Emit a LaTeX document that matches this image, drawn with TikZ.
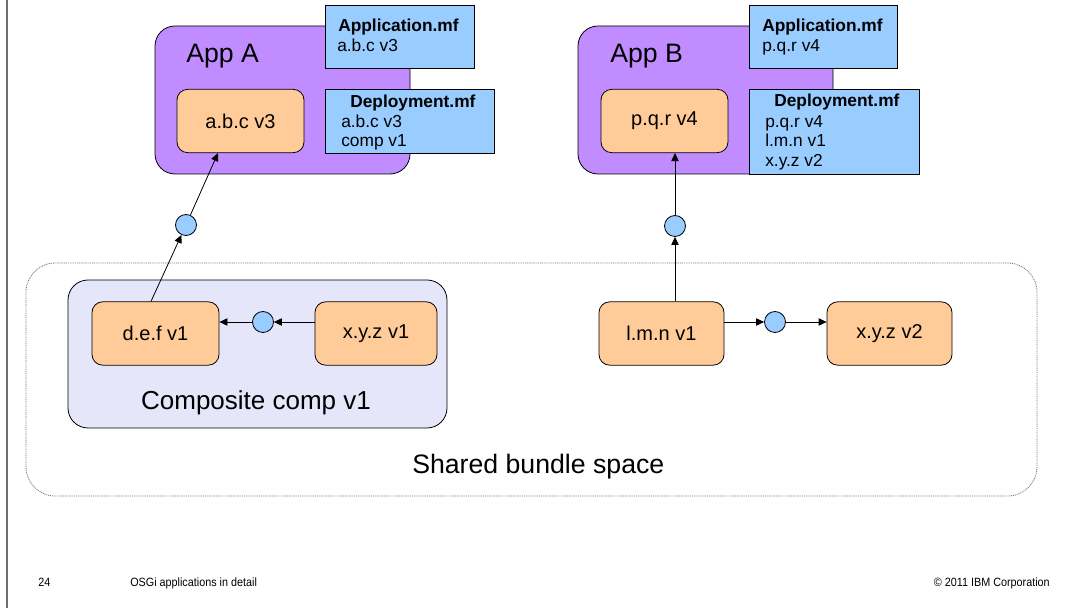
\documentclass[tikz,border=0pt]{standalone}
\usepackage{fontspec}
\setmainfont{Liberation Sans}
\newfontfamily\narrowfont[FakeStretch=0.9]{Liberation Sans}
\usetikzlibrary{arrows.meta,calc}
\definecolor{appfill}{HTML}{C08CFF}
\definecolor{mffill}{HTML}{99CCFF}
\definecolor{bundlefill}{HTML}{FFCC99}
\definecolor{compfill}{HTML}{E6E6FA}
\definecolor{framegrey}{HTML}{6E6E6E}
\definecolor{dotgrey}{HTML}{707070}
\begin{document}
\begin{tikzpicture}[x=0.75pt,y=-0.75pt,
  appbox/.style={draw=black, fill=appfill, rounded corners=15pt, line width=0.6pt, inner sep=0pt},
  mfbox/.style={draw=black, fill=mffill, line width=0.6pt, inner sep=0pt},
  bundlebox/.style={draw=black, fill=bundlefill, rounded corners=8pt, line width=0.6pt, inner sep=0pt,
    minimum height=47.5pt, font=\fontsize{15}{18}\selectfont},
  compbox/.style={draw=black, fill=compfill, rounded corners=15pt, line width=0.6pt, inner sep=0pt},
  sharedbox/.style={draw=dotgrey, line width=0.6pt, dash pattern=on 0.7pt off 0.7pt, rounded corners=22pt, inner sep=0pt},
  port/.style={circle, draw=black, fill=mffill, line width=0.6pt, minimum size=15.75pt, inner sep=0pt},
  arr/.style={-{Triangle[length=6pt,width=5.5pt]}, line width=0.6pt, draw=black},
  bigtext/.style={font=\fontsize{20}{24}\selectfont, inner sep=0pt},
  midtext/.style={font=\fontsize{19.5}{23}\selectfont, inner sep=0pt},
  mftext/.style={font=\fontsize{13}{15}\selectfont, inner sep=0pt, anchor=base west},
  mfhead/.style={font=\fontsize{13}{15}\selectfont\bfseries, inner sep=0pt, anchor=base west},
  foot/.style={font=\narrowfont\fontsize{9}{11}\selectfont, inner sep=0pt},
]
\useasboundingbox (0,0) rectangle (1072,616);
\fill[white] (0,0) rectangle (1072,616);

% left frame line
\coordinate (frametop) at (7,0);
\coordinate (framebot) at (7,608);
\draw[framegrey, line width=1pt] (frametop) -- (framebot);

% shared bundle space
\node[sharedbox, minimum width=758.25pt, minimum height=174.75pt] (shared) at (531.5,379.5) {};
\node[bigtext, anchor=base west] (sharedlbl) at (412,474) {Shared bundle space};

% composite
\node[compbox, minimum width=284.25pt, minimum height=111pt] (comp) at (257.5,354) {};
\node[midtext, anchor=base] (complbl) at (256,410) {Composite comp v1};

% app boxes
\node[appbox, minimum width=191.25pt, minimum height=111pt] (appA) at (282.5,100) {};
\node[appbox, minimum width=191.25pt, minimum height=111pt] (appB) at (705.5,100) {};
\node[bigtext, anchor=base west] (appAlbl) at (186,63) {App A};
\node[bigtext, anchor=base west] (appBlbl) at (610,63) {App B};

% manifests A
\node[mfbox, minimum width=111.75pt, minimum height=47.25pt] (amfA) at (399.5,36.5) {};
\node[mfhead] (amfAh) at (338,32) {Application.mf};
\node[mftext] (amfA1) at (337,52) {a.b.c v3};
\node[mfbox, minimum width=126.75pt, minimum height=48pt] (dmfA) at (409.5,121) {};
\node[mfhead] (dmfAh) at (350,108) {Deployment.mf};
\node[mftext] (dmfA1) at (341,128) {a.b.c v3};
\node[mftext] (dmfA2) at (341,147) {comp v1};

% manifests B
\node[mfbox, minimum width=111pt, minimum height=47.25pt] (amfB) at (823,36.5) {};
\node[mfhead] (amfBh) at (762,32) {Application.mf};
\node[mftext] (amfB1) at (762,52) {p.q.r v4};
\node[mfbox, minimum width=127.5pt, minimum height=63.75pt] (dmfB) at (834,131.5) {};
\node[mfhead] (dmfBh) at (774,107) {Deployment.mf};
\node[mftext] (dmfB1) at (765,128) {p.q.r v4};
\node[mftext] (dmfB2) at (765,147) {l.m.n v1};
\node[mftext] (dmfB3) at (765,167) {x.y.z v2};

% bundles
\node[bundlebox, minimum width=95.25pt] (abc) at (240.5,121) {a.b.c v3};
\node[bundlebox, minimum width=95.25pt] (pqr) at (664.5,121) {p.q.r v4};
\node[bundlebox, minimum width=95.25pt] (def) at (155.5,333.5) {d.e.f v1};
\node[bundlebox, minimum width=91.5pt] (xyz1) at (376,333.5) {x.y.z v1};
\node[bundlebox, minimum width=93.75pt] (lmn) at (661.5,333.5) {l.m.n v1};
\node[bundlebox, minimum width=93.75pt] (xyz2) at (889.5,333.5) {x.y.z v2};

% ports
\node[port] (circA) at (186,225) {};
\node[port] (circB) at (675,226) {};
\node[port] (circC) at (263,322) {};
\node[port] (circD) at (775,322) {};

% connectors
\draw[arr] ([xshift=-3.4pt]def.north) -- (circA);
\draw[arr] (circA) -- ([xshift=-16.9pt]abc.south);
\draw[arr] (circB |- lmn.north) -- (circB);
\draw[arr] (circB) -- (circB |- pqr.south);
\draw[arr] (xyz1.west |- circC) -- (circC);
\draw[arr] (circC) -- (def.east |- circC);
\draw[arr] (lmn.east |- circD) -- (circD);
\draw[arr] (circD) -- (xyz2.west |- circD);

% footer
\node[foot, anchor=base west] (pagenum) at (38,587) {24};
\node[foot, anchor=base west] (foottitle) at (130,587) {OSGi applications in detail};
\node[foot, anchor=base east] (footcopy) at (1050,587) {© 2011 IBM Corporation};
\end{tikzpicture}
\end{document}
